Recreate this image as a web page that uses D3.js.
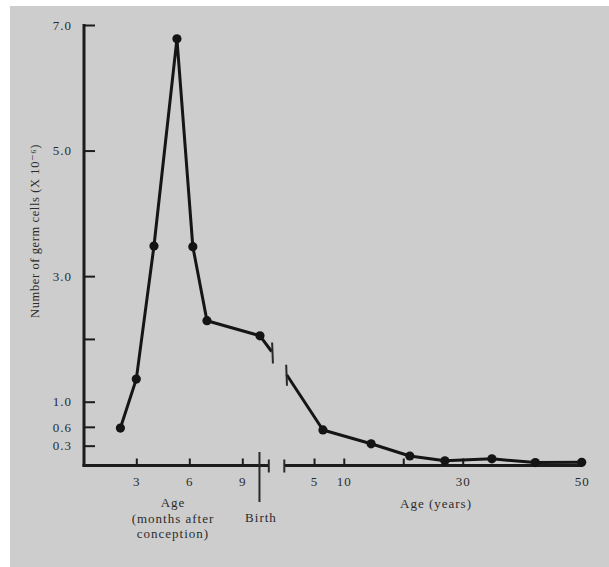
<!DOCTYPE html>
<html lang="en">
	<head>
		<meta charset="utf-8">
		<title>Germ cells by age</title>
		<script type="text/javascript" src="https://cdn.jsdelivr.net/npm/d3@7"></script>
		<style type="text/css">
			body {
				margin: 0;
				background: white;
			}
			text {
				font-family: "Liberation Serif", "DejaVu Serif", serif;
				fill: #2b2b2b;
			}
			.axis text {
				font-size: 13px;
				letter-spacing: 1px;
			}
			.axis line {
				stroke: #1c1c1c;
				stroke-width: 2;
			}
		</style>
	</head>
	<body>
		<script type="text/javascript">

			//Before birth (months after conception)
			var monthAge = [2.1, 3, 4, 5.3, 6.2, 7, 10];
			var monthCells = [0.58, 1.36, 3.48, 6.78, 3.47, 2.29, 2.05];
			//line runs on to the break
			var monthBreak = [10.66, 1.8];

			//After birth (years)
			var yearBreak = [0.4, 1.43];
			var yearAge = [6.5, 14.6, 21.1, 27, 34.9, 42.2, 50];
			var yearCells = [0.55, 0.33, 0.135, 0.06, 0.09, 0.03, 0.035];

			var yTicks = [0.3, 0.6, 1.0, 2.0, 3.0, 5.0, 7.0];
			var yTickLabels = ["0.3", "0.6", "1.0", "", "3.0", "5.0", "7.0"];
			var monthTicks = [3, 6, 9];
			var yearTicks = [5, 10, 20, 30, 50];
			var yearTickLabels = ["5", "10", "", "30", "50"];
			var birthMonth = 10;
			var monthAxisEnd = 10.5;

			var w = 609;
			var h = 567;
			var axisY = 465.5;

			var y = d3.scaleLinear().domain([0, 7]).range([464.5, 25]);
			var xm = d3.scaleLinear().domain([0, 9]).range([83.3, 242.3]);
			var xy = d3.scaleLinear().domain([0, 50]).range([284.3, 581.7]);

			var svg = d3.select("body")
						.append("svg")
						.attr("width", w)
						.attr("height", h);

			//scanned page background
			svg.append("rect")
			   .attr("x", 10)
			   .attr("y", 6)
			   .attr("width", w - 10)
			   .attr("height", h - 6)
			   .attr("fill", "#cdcdcd");

			//Y axis
			var yAxis = d3.axisLeft(y)
						  .tickValues(yTicks)
						  .tickSizeInner(-11)
						  .tickSizeOuter(0)
						  .tickPadding(12)
						  .tickFormat(function(d, i) { return yTickLabels[i]; });

			svg.append("g")
			   .attr("class", "axis")
			   .attr("transform", "translate(84,0)")
			   .call(yAxis)
			   .call(function(g) { g.select(".domain").remove(); });

			svg.append("line")
			   .attr("x1", 84).attr("x2", 84)
			   .attr("y1", y(7) - 1).attr("y2", axisY + 1)
			   .attr("stroke", "#1c1c1c")
			   .attr("stroke-width", 3);

			svg.append("text")
			   .attr("transform", "translate(39," + 231 + ") rotate(-90)")
			   .attr("text-anchor", "middle")
			   .attr("font-size", "12.5px")
			   .attr("letter-spacing", "0.6px")
			   .text("Number of germ cells (X 10\u207B\u2076)");

			//Month axis
			var mAxis = d3.axisBottom(xm)
						  .tickValues(monthTicks)
						  .tickSizeInner(-7)
						  .tickSizeOuter(0)
						  .tickPadding(11)
						  .tickFormat(d3.format("d"));

			svg.append("g")
			   .attr("class", "axis")
			   .attr("transform", "translate(0," + axisY + ")")
			   .call(mAxis)
			   .call(function(g) { g.select(".domain").remove(); });

			//Year axis
			var yrAxis = d3.axisBottom(xy)
						   .tickValues(yearTicks)
						   .tickSizeInner(-7)
						   .tickSizeOuter(0)
						   .tickPadding(11)
						   .tickFormat(function(d, i) { return yearTickLabels[i]; });

			svg.append("g")
			   .attr("class", "axis")
			   .attr("transform", "translate(0," + axisY + ")")
			   .call(yrAxis)
			   .call(function(g) { g.select(".domain").remove(); });

			//axis lines with break bars
			var axisLines = [
				[82.5, xm(monthAxisEnd)],
				[xy(0), xy(50) + 1]
			];
			svg.selectAll("line.xline")
			   .data(axisLines)
			   .enter()
			   .append("line")
			   .attr("class", "xline")
			   .attr("x1", function(d) { return d[0]; })
			   .attr("x2", function(d) { return d[1]; })
			   .attr("y1", axisY)
			   .attr("y2", axisY)
			   .attr("stroke", "#1c1c1c")
			   .attr("stroke-width", 3);

			svg.selectAll("line.xbreak")
			   .data([xm(monthAxisEnd), xy(0)])
			   .enter()
			   .append("line")
			   .attr("class", "xbreak")
			   .attr("x1", function(d) { return d; })
			   .attr("x2", function(d) { return d; })
			   .attr("y1", axisY - 6)
			   .attr("y2", axisY + 7)
			   .attr("stroke", "#2a2a2a")
			   .attr("stroke-width", 2);

			//Birth marker
			svg.append("line")
			   .attr("x1", xm(birthMonth) - 0.5)
			   .attr("x2", xm(birthMonth) - 0.5)
			   .attr("y1", 452)
			   .attr("y2", 502)
			   .attr("stroke", "#2a2a2a")
			   .attr("stroke-width", 2);

			svg.append("text")
			   .attr("x", xm(birthMonth) + 1)
			   .attr("y", 522)
			   .attr("text-anchor", "middle")
			   .attr("font-size", "13px")
			   .attr("letter-spacing", "1px")
			   .text("Birth");

			//axis titles
			var monthTitle = ["Age", "(months after", "conception)"];
			svg.selectAll("text.mtitle")
			   .data(monthTitle)
			   .enter()
			   .append("text")
			   .attr("class", "mtitle")
			   .attr("x", 173)
			   .attr("y", function(d, i) { return 507 + i * 15.5; })
			   .attr("text-anchor", "middle")
			   .attr("font-size", "13px")
			   .attr("letter-spacing", "1px")
			   .text(function(d) { return d; });

			svg.append("text")
			   .attr("x", 436)
			   .attr("y", 507.5)
			   .attr("text-anchor", "middle")
			   .attr("font-size", "13px")
			   .attr("letter-spacing", "1px")
			   .text("Age (years)");

			//Data lines
			var monthPts = monthAge.map(function(d, i) { return [xm(d), y(monthCells[i])]; });
			var yearPts = yearAge.map(function(d, i) { return [xy(d), y(yearCells[i])]; });
			var leftEnd = [xm(monthBreak[0]), y(monthBreak[1])];
			var rightStart = [xy(yearBreak[0]), y(yearBreak[1])];

			var line = d3.line();

			svg.selectAll("path.series")
			   .data([monthPts.concat([leftEnd]), [rightStart].concat(yearPts)])
			   .enter()
			   .append("path")
			   .attr("class", "series")
			   .attr("d", line)
			   .attr("fill", "none")
			   .attr("stroke", "#151515")
			   .attr("stroke-width", 3)
			   .attr("stroke-linejoin", "round");

			//break bars on the curve
			svg.selectAll("line.cbreak")
			   .data([[leftEnd[0] + 0.5, leftEnd[1] + 1], [rightStart[0] - 0.5, rightStart[1]]])
			   .enter()
			   .append("line")
			   .attr("class", "cbreak")
			   .attr("x1", function(d) { return d[0]; })
			   .attr("x2", function(d) { return d[0] + 0.8; })
			   .attr("y1", function(d) { return d[1] - 10; })
			   .attr("y2", function(d) { return d[1] + 11; })
			   .attr("stroke", "#2a2a2a")
			   .attr("stroke-width", 2);

			//Points last so they sit on top
			svg.selectAll("circle")
			   .data(monthPts.concat(yearPts))
			   .enter()
			   .append("circle")
			   .attr("cx", function(d) { return d[0]; })
			   .attr("cy", function(d) { return d[1]; })
			   .attr("r", 4.6)
			   .attr("fill", "#141414");

		</script>
	</body>
</html>
